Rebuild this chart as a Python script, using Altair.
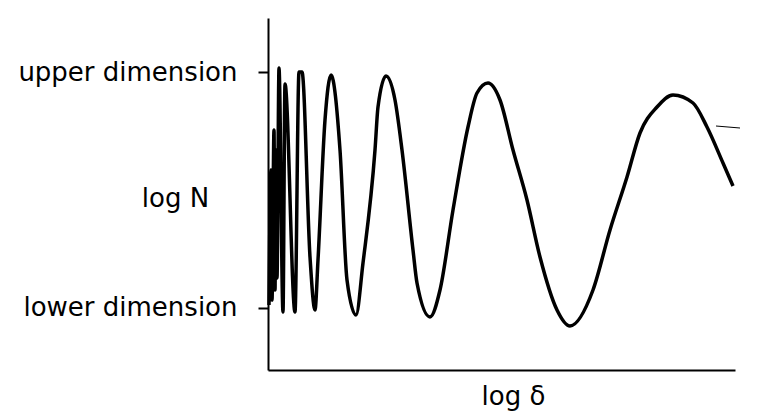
import altair as alt
import pandas as pd

# curve (x: log delta units, y: log N units; 0 = lower dimension, 235 = upper dimension)
curve_x = [1, 3, 4, 6, 7, 8, 9, 11, 15, 17, 27, 31, 34, 42, 47, 50, 57, 63, 72, 79, 88, 95, 107, 110, 118,
           127, 134, 145, 149, 162, 172, 185, 200, 209, 220, 232, 245, 259, 272, 289, 302, 325, 342, 359,
           372, 389, 405, 425, 439, 455, 465]
curve_y = [2.5, 137.5, 7.5, 177.5, 17.5, 157.5, 29.5, 239.5, -4.5, 223.5, -4.5, 235.5, 235.5, 50.5, -2.5,
           47.5, 187.5, 232.5, 157.5, 27.5, -7.5, 44.5, 157.5, 200.5, 231.5,
           207.5, 157.5, 57.5, 24.5, -9.5, 17.5, 97.5, 180.5, 214.5, 224.5, 207.5, 157.5, 107.5, 50.5, -2.5,
           -18.5, 17.5, 77.5, 130.5, 174.5, 200.5, 212.5, 204.5, 180.5, 144.5, 121.5]

# small stray dash near the right end
dash_x = [448, 472]
dash_y = [181.5, 179.5]

tick_values = [0, 235]
tick_labels = ["lower dimension", "upper dimension"]

df = pd.DataFrame({"x": curve_x, "y": curve_y})
dash_df = pd.DataFrame({"x": dash_x, "y": dash_y})

label_expr = " : ".join(
    [f"datum.value == {v} ? '{t}'" for v, t in zip(tick_values, tick_labels)]
) + " : ''"

FONT = "DejaVu Sans"

xscale = alt.Scale(domain=[0, 467], nice=False, zero=False)
yscale = alt.Scale(domain=[-62.5, 289.5], nice=False, zero=False)

base = alt.Chart(df).mark_line(color="black", strokeWidth=3.5, interpolate="monotone").encode(
    x=alt.X("x:Q", scale=xscale,
            axis=alt.Axis(title="log δ", ticks=False, labels=False, grid=False,
                          domainColor="black", domainWidth=2,
                          titleFont=FONT, titleFontSize=26, titleFontWeight="normal",
                          titleColor="black", titleAngle=0,
                          titleX=245, titleY=26, titleAlign="center", titleBaseline="middle")),
    y=alt.Y("y:Q", scale=yscale,
            axis=alt.Axis(values=tick_values, labelExpr=label_expr, grid=False,
                          domainColor="black", domainWidth=2,
                          tickColor="black", tickWidth=2, tickSize=10,
                          labelFont=FONT, labelFontSize=26, labelColor="black",
                          labelPadding=21, labelBaseline="middle", labelLimit=400,
                          title="log N", titleFont=FONT, titleFontSize=26,
                          titleFontWeight="normal", titleColor="black", titleAngle=0,
                          titleX=-93, titleY=180, titleAlign="center",
                          titleBaseline="middle")),
)

dash = alt.Chart(dash_df).mark_line(color="black", strokeWidth=1).encode(
    x=alt.X("x:Q", scale=xscale), y=alt.Y("y:Q", scale=yscale)
)

chart = alt.layer(base, dash).properties(
    width=467, height=352,
    background="white",
    autosize=alt.AutoSizeParams(type="none"),
    padding={"left": 260, "top": 10, "right": 20, "bottom": 45},
).configure_view(strokeWidth=0, stroke="transparent")

chart.save("out.html", embed_options={"renderer": "svg", "actions": False})
